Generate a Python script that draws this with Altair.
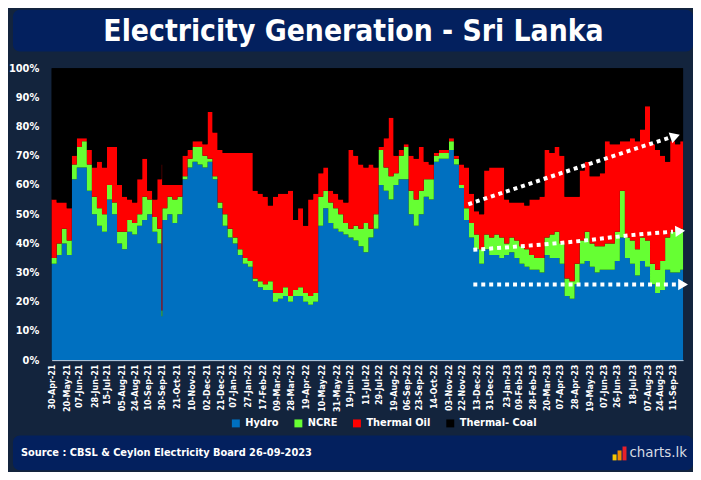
import altair as alt
import pandas as pd

FONT = "DejaVu Sans Condensed, DejaVu Sans, sans-serif"
BG = "#13243d"
BAND = "#03205e"

series_names = ["Hydro", "NCRE", "Thermal Oil", "Thermal- Coal"]
series_colors = ["#0070c0", "#66ff33", "#ff0000", "#000000"]

# weekly readings (share of generation, %), starting 30-Apr-2021
hydro = [33, 36, 40, 36, 62, 66, 66, 58, 50, 46,
         44, 55, 50, 40, 38, 44, 43, 46, 48, 50,
         44, 40, 48, 50, 47, 50, 62, 66, 68, 67,
         66, 68, 62, 52, 46, 42, 40, 36, 33, 32,
         27, 25, 24, 24, 20, 21, 22, 20, 22, 22,
         20, 19, 20, 46, 52, 47, 45, 44, 43, 42,
         41, 39, 37, 42, 45, 60, 58, 55, 60, 62,
         62, 50, 46, 50, 56, 55, 68, 69, 69, 72,
         67, 59, 48, 42, 38, 33, 38, 36, 36, 35,
         36, 37, 35, 33, 32, 31, 31, 30, 36, 35,
         35, 33, 22, 21, 26, 33, 34, 32, 30, 31,
         31, 31, 34, 42, 35, 33, 29, 34, 32, 26,
         23, 24, 31, 30, 30, 31]
ncre = [2, 4, 5, 5, 5, 7, 9, 9, 6, 6,
        6, 5, 4, 4, 6, 4, 4, 4, 8, 5,
        5, 5, 4, 6, 8, 6, 1, 3, 5, 6,
        4, 1, 1, 2, 4, 3, 2, 2, 2, 2,
        1, 2, 2, 3, 3, 2, 3, 2, 2, 3,
        3, 3, 3, 10, 6, 7, 7, 6, 4, 3,
        5, 6, 10, 3, 5, 12, 8, 8, 4, 8,
        11, 8, 9, 8, 6, 7, 2, 2, 2, 3,
        2, 1, 4, 5, 5, 5, 5, 6, 7, 7,
        4, 5, 6, 6, 6, 5, 4, 5, 6, 8,
        9, 7, 6, 6, 7, 8, 10, 8, 9, 8,
        9, 9, 10, 16, 7, 8, 9, 8, 9, 7,
        8, 10, 11, 14, 15, 14]
oil = [20, 14, 9, 11, 3, 3, 1, 5, 10, 16,
       16, 13, 19, 16, 12, 7, 7, 12, 13, 3,
       6, 17, 8, 4, 5, 4, 7, 3, 2, 2,
       4, 16, 15, 18, 21, 26, 29, 33, 36, 37,
       30, 30, 30, 26, 33, 34, 32, 36, 24, 27,
       23, 33, 34, 8, 8, 4, 5, 5, 7, 27,
       24, 22, 19, 22, 16, 1, 10, 20, 6, 2,
       1, 12, 14, 15, 6, 5, 1, 1, 1, 1,
       1, 7, 14, 10, 8, 12, 22, 24, 23, 24,
       15, 12, 13, 15, 15, 19, 20, 21, 30, 28,
       29, 30, 28, 29, 23, 24, 24, 23, 24, 25,
       35, 34, 30, 17, 33, 35, 37, 37, 46, 41,
       41, 36, 26, 31, 29, 30]
coal = [45, 46, 46, 48, 30, 24, 24, 28, 34, 32,
        34, 27, 27, 40, 44, 45, 46, 38, 31, 42,
        45, 38, 40, 40, 40, 40, 30, 28, 25, 25,
        26, 15, 22, 28, 29, 29, 29, 29, 29, 29,
        42, 43, 44, 47, 44, 43, 43, 42, 52, 48,
        54, 45, 43, 36, 34, 42, 43, 45, 46, 28,
        30, 33, 34, 33, 34, 27, 24, 17, 30, 28,
        26, 30, 31, 27, 32, 33, 29, 28, 28, 24,
        30, 33, 34, 43, 49, 50, 35, 34, 34, 34,
        45, 46, 46, 46, 47, 45, 45, 44, 28, 29,
        27, 30, 44, 44, 44, 35, 32, 37, 37, 36,
        25, 26, 26, 25, 25, 24, 25, 21, 13, 26,
        28, 30, 32, 25, 26, 25]

# single-day readings (spike day and right edge)
extra_dates = ["2021-09-30", "2023-09-26"]
extra_hydro = [15, 31]
extra_ncre = [2, 15]
extra_oil = [50, 29]
extra_coal = [33, 25]

tick_dates = ["2021-04-30", "2021-05-20", "2021-06-07", "2021-06-28", "2021-07-15",
              "2021-08-05", "2021-08-24", "2021-09-10", "2021-09-30", "2021-10-21",
              "2021-11-10", "2021-12-02", "2021-12-21", "2022-01-07", "2022-01-27",
              "2022-02-17", "2022-03-09", "2022-03-28", "2022-04-19", "2022-05-10",
              "2022-05-31", "2022-06-19", "2022-07-11", "2022-07-29", "2022-08-19",
              "2022-09-06", "2022-09-23", "2022-10-14", "2022-11-03", "2022-11-22",
              "2022-12-13", "2022-12-31", "2023-01-23", "2023-02-09", "2023-02-28",
              "2023-03-20", "2023-04-07", "2023-04-28", "2023-05-19", "2023-06-07",
              "2023-06-26", "2023-07-18", "2023-08-07", "2023-08-24", "2023-09-11"]

# dotted trend arrows (annotation)
arrow_ids = ["top", "top", "top", "mid", "mid", "mid", "mid", "low", "low"]
arrow_dates = ["2022-12-01", "2023-04-27", "2023-09-08",
               "2022-12-08", "2023-04-27", "2023-07-28", "2023-09-12",
               "2022-12-08", "2023-09-17"]
arrow_vals = [53.4, 65.5, 76.3, 37.8, 40.6, 43.1, 44.0, 25.9, 25.9]
head_dates = ["2023-09-15", "2023-09-22", "2023-09-26"]
head_vals = [76.7, 44.2, 25.9]
head_angles = [341, 356, 0]

weekly = pd.date_range("2021-04-30", periods=len(hydro), freq="7D")
all_dates = [d.strftime("%Y-%m-%dT00:00:00") for d in weekly] + [d + "T00:00:00" for d in extra_dates]
all_vals = list(zip(hydro + extra_hydro, ncre + extra_ncre, oil + extra_oil, coal + extra_coal))
rows = []
for d, vals in zip(all_dates, all_vals):
    for i, (name, v) in enumerate(zip(series_names, vals)):
        rows.append({"date": d, "series": name, "value": v, "ord": i})
df = pd.DataFrame(rows).sort_values(["date", "ord"])

arrows_df = pd.DataFrame({"arrow": arrow_ids,
                          "date": [d + "T00:00:00" for d in arrow_dates],
                          "value": arrow_vals})
heads_df = pd.DataFrame({"date": [d + "T00:00:00" for d in head_dates],
                         "value": head_vals, "angle": head_angles})


def dt(s):
    y, m, d = (int(p) for p in s.split("-"))
    return alt.DateTime(year=y, month=m, date=d)


x_scale = alt.Scale(domain=[dt("2021-04-30"), dt("2023-09-26")], nice=False, padding=0)
y_scale = alt.Scale(domain=[0, 100], nice=False)

x_axis = alt.Axis(values=[dt(s) for s in tick_dates], format="%d-%b-%y", labelAngle=270,
                  labelFont=FONT, labelFontSize=9, labelFontWeight="bold", labelColor="white",
                  labelPadding=4, ticks=False, tickSize=0, domain=True, domainColor="#bcd3ea",
                  domainWidth=1, grid=False, labelOverlap=False, labelFlush=False, title=None)
y_axis = alt.Axis(values=list(range(0, 101, 10)), labelExpr="datum.value + '%'",
                  labelFont=FONT, labelFontSize=11, labelFontWeight="bold", labelColor="white",
                  labelPadding=13, ticks=False, tickSize=0, domain=False, grid=False, title=None)
legend = alt.Legend(orient="none", direction="horizontal", legendX=180, legendY=352,
                    title=None, symbolType="square", symbolSize=64, symbolStrokeWidth=0,
                    labelFont=FONT, labelFontSize=11, labelFontWeight="bold",
                    labelColor="white", labelOffset=4, columnPadding=14)

X = alt.X("date:T", scale=x_scale, axis=x_axis)
Y = alt.Y("value:Q", scale=y_scale, axis=y_axis)

area = alt.Chart(df).mark_area(interpolate="step-after").encode(
    x=X,
    y=alt.Y("value:Q", stack="zero", scale=y_scale, axis=y_axis),
    color=alt.Color("series:N", scale=alt.Scale(domain=series_names, range=series_colors),
                    legend=legend),
    order=alt.Order("ord:Q"),
)

arrow_lines = alt.Chart(arrows_df).mark_line(
    color="white", strokeWidth=4, strokeDash=[4, 4], interpolate="monotone", strokeCap="butt"
).encode(x=X, y=Y, detail="arrow:N")

heads = alt.Chart(heads_df).mark_point(
    shape="triangle-right", filled=True, color="white", opacity=1, size=130, strokeWidth=0
).encode(x=X, y=Y, angle=alt.Angle("angle:Q", scale=None))

one = pd.DataFrame({"k": [0]})
header = alt.Chart(one).mark_rect(color=BAND, cornerRadius=7).encode(
    x=alt.value(-39), x2=alt.value(646), y=alt.value(-59), y2=alt.value(-17))
title = alt.Chart(one).mark_text(
    text="Electricity Generation - Sri Lanka", font=FONT, fontSize=30, fontWeight="bold",
    color="white", align="center", baseline="alphabetic").encode(x=alt.value(304), y=alt.value(-27))
footer = alt.Chart(one).mark_rect(color=BAND, cornerRadius=7).encode(
    x=alt.value(-39), x2=alt.value(646), y=alt.value(370), y2=alt.value(405))
source = alt.Chart(one).mark_text(
    text="Source : CBSL & Ceylon Electricity Board 26-09-2023", font=FONT, fontSize=11,
    fontWeight="bold", color="white", align="left", baseline="middle").encode(
    x=alt.value(-31), y=alt.value(388))
logo_text = alt.Chart(one).mark_text(
    text="charts.lk", font=FONT, fontSize=15, color="#d8dce4", align="left",
    baseline="middle").encode(x=alt.value(582), y=alt.value(387))
logo_df = pd.DataFrame({"x": [565, 570, 575], "x2": [569, 574, 579],
                        "y": [389, 385, 381], "c": ["#f7c600", "#f28a00", "#e8202a"]})
logo_bars = alt.Chart(logo_df).mark_rect().encode(
    x=alt.X("x:Q", scale=None), x2="x2:Q", y=alt.Y("y:Q", scale=None), y2=alt.value(395),
    color=alt.Color("c:N", scale=None))

chart = alt.layer(header, title, footer, source, logo_bars, logo_text,
                  area, arrow_lines, heads).properties(
    width=636, height=294, padding=0, background=BG
).configure_view(strokeWidth=0, fill="#000000")

chart.save("out.html", embed_options={"renderer": "svg", "actions": False})
